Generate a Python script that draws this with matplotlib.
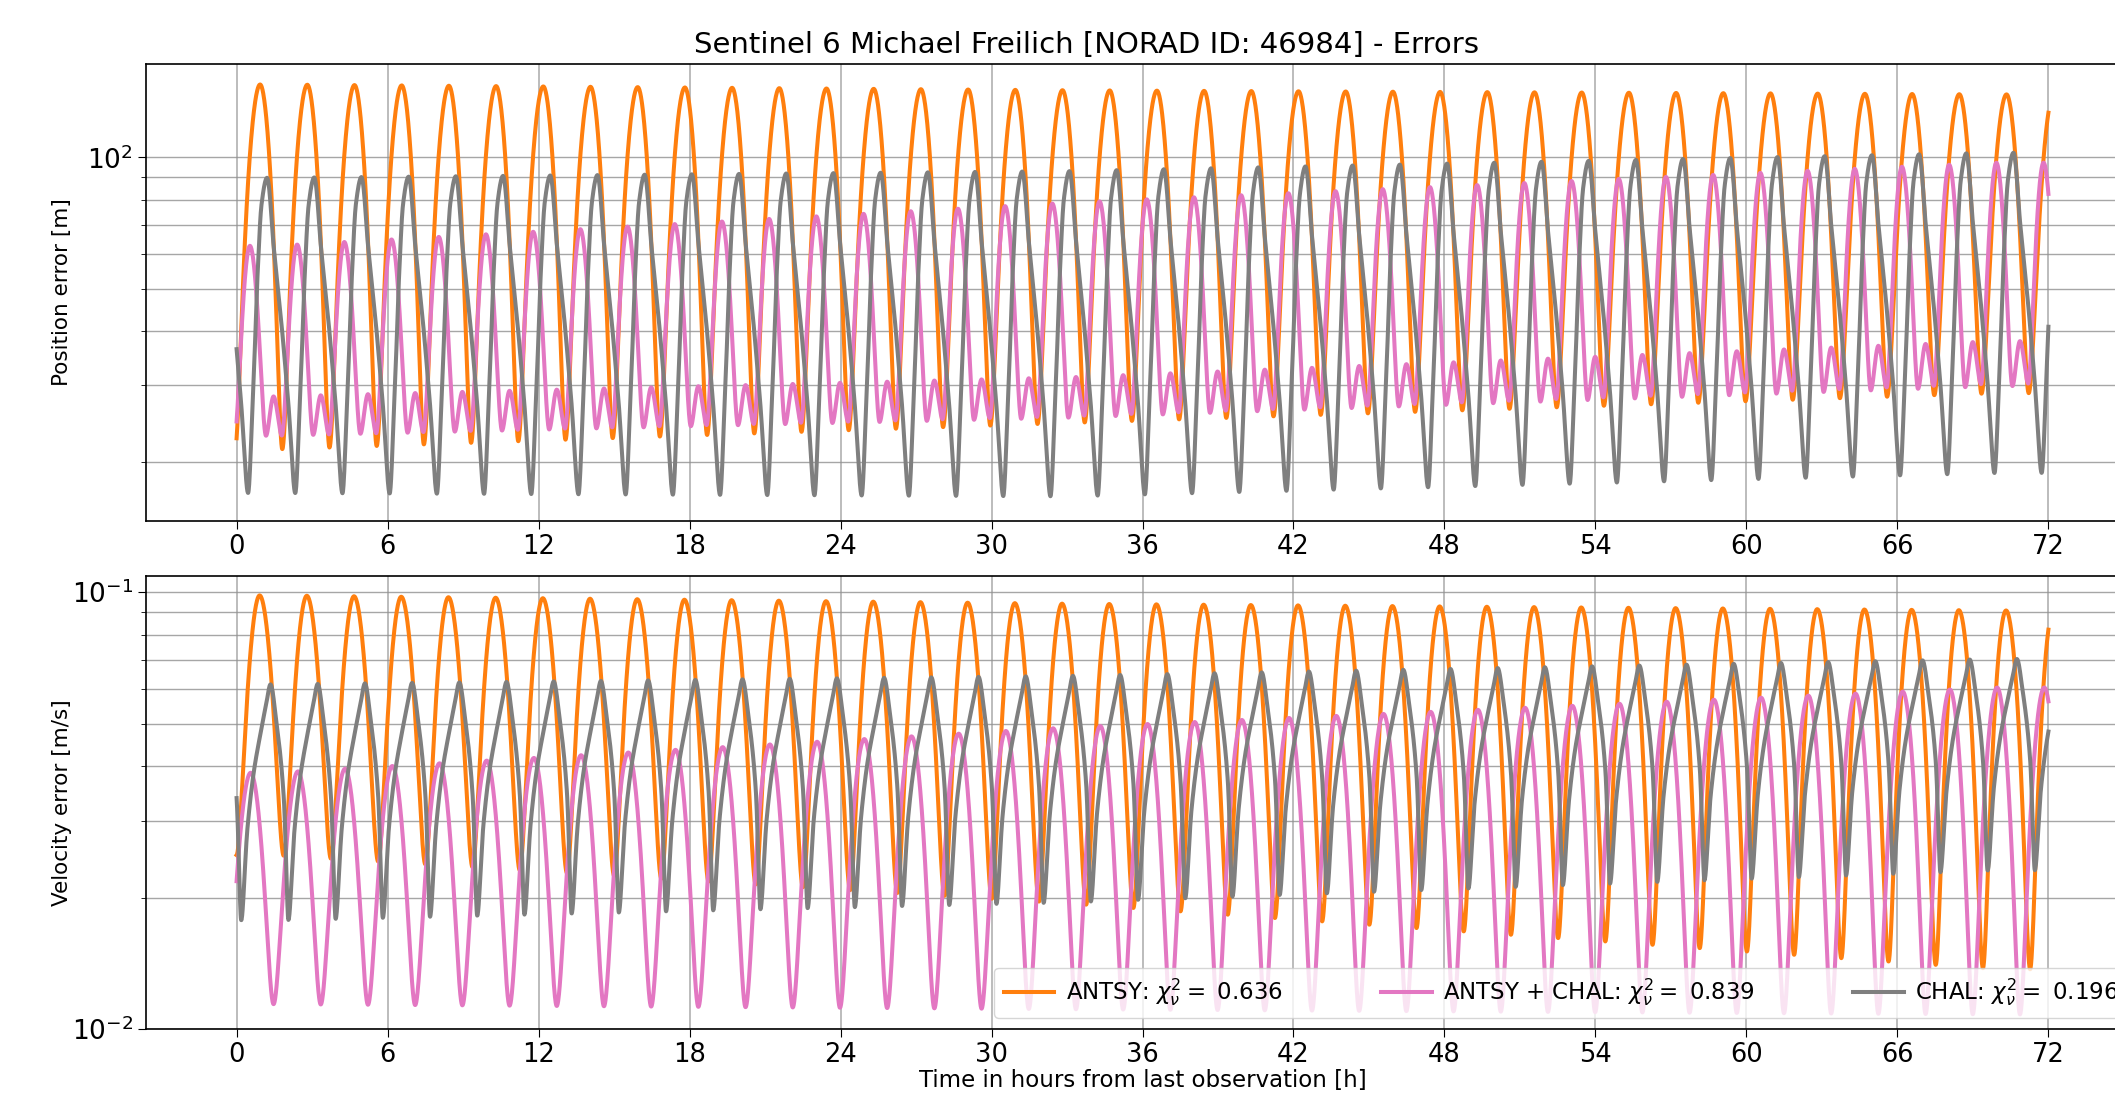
import numpy as np
import matplotlib
matplotlib.use("Agg")
import matplotlib.pyplot as plt

# ---------------- data ----------------
TITLE = "Sentinel 6 Michael Freilich [NORAD ID: 46984] - Errors"
SERIES = ["ANTSY", "ANTSY + CHAL", "CHAL"]
CHI2 = [0.636, 0.839, 0.196]
COLORS = ["#ff7f0e", "#e377c2", "#7f7f7f"]
XTICKS = [0, 6, 12, 18, 24, 30, 36, 42, 48, 54, 60, 66, 72]

ORBIT_PERIOD_H = 1.8757      # spacing of the oscillations
FIRST_TROUGH_H = 1.76        # first ANTSY position trough (phase origin)
ANCHOR_T = [1.5, 33.0, 70.0]  # times where the key values below were read

# Position error [m]: key points of one orbit (phase, start / mid / end values)
pos_antsy_phase = [0.03, 0.56]
pos_antsy_start = [21.4, 147.0]
pos_antsy_mid = [24.6, 142.6]
pos_antsy_end = [28.8, 139.5]

pos_both_phase = [0.344, 0.685, 0.845, 0.02]
pos_both_start = [62.7, 23.0, 28.3, 23.0]
pos_both_mid = [78.7, 25.3, 31.3, 25.5]
pos_both_end = [97.3, 29.9, 37.9, 30.3]

pos_chal_phase = [0.0, 0.15, 0.305, 0.43, 0.51, 0.59, 0.707, 0.85]
pos_chal_start = [43.0, 28.0, 17.0, 32.6, 55.0, 78.0, 89.8, 62.0]
pos_chal_mid = [43.3, 27.8, 16.7, 32.7, 56.1, 80.5, 93.0, 63.5]
pos_chal_end = [48.4, 31.3, 18.9, 36.6, 62.3, 88.9, 102.5, 70.4]

# Velocity error [m/s]
vel_antsy_phase = [0.06, 0.55]
vel_antsy_start = [0.025, 0.0983]
vel_antsy_mid = [0.0194, 0.0941]
vel_antsy_end = [0.0137, 0.0908]

vel_both_phase = [0.36, 0.845]
vel_both_start = [0.0386, 0.0114]
vel_both_mid = [0.049, 0.0111]
vel_both_end = [0.0605, 0.0108]

vel_chal_phase = [0.06, 0.16, 0.294, 0.422, 0.557, 0.69, 0.78, 0.9]
vel_chal_start = [0.034, 0.01774, 0.0290, 0.0385, 0.0468, 0.0555, 0.0615, 0.051]
vel_chal_mid = [0.0364, 0.0195, 0.0313, 0.0410, 0.0494, 0.0582, 0.0643, 0.0537]
vel_chal_end = [0.0414, 0.0231, 0.0359, 0.0462, 0.0550, 0.0640, 0.0703, 0.0596]


# ---------------- helpers ----------------
def pchip_periodic(xk, yk, x):
    xk = np.asarray(xk, float)
    yk = np.asarray(yk, float)
    o = np.argsort(xk)
    xk, yk = xk[o], yk[o]
    xe = np.concatenate([xk - 1, xk, xk + 1])
    ye = np.concatenate([yk, yk, yk])
    h = np.diff(xe)
    dl = np.diff(ye) / h
    d = np.zeros_like(xe)
    for i in range(1, len(xe) - 1):
        if dl[i - 1] * dl[i] <= 0:
            d[i] = 0.0
        else:
            w1 = 2 * h[i] + h[i - 1]
            w2 = h[i] + 2 * h[i - 1]
            d[i] = (w1 + w2) / (w1 / dl[i - 1] + w2 / dl[i])
    xm = np.mod(x, 1.0)
    idx = np.searchsorted(xe, xm, side="right") - 1
    hh = h[idx]
    s = (xm - xe[idx]) / hh
    h00 = 2 * s**3 - 3 * s**2 + 1
    h10 = s**3 - 2 * s**2 + s
    h01 = -2 * s**3 + 3 * s**2
    h11 = s**3 - s**2
    return h00 * ye[idx] + h10 * hh * d[idx] + h01 * ye[idx + 1] + h11 * hh * d[idx + 1]


t = np.linspace(0, 72, 7201)
phase = (t - FIRST_TROUGH_H) / ORBIT_PERIOD_H


def build(ph, start, mid, end):
    curves = [np.log10(np.maximum(pchip_periodic(ph, v, phase), 1e-6))
              for v in (start, mid, end)]
    w = []
    for k in range(3):
        e = np.zeros(3)
        e[k] = 1.0
        w.append(np.interp(t, ANCHOR_T, e))
    return 10 ** sum(wk * ck for wk, ck in zip(w, curves))


pos = [build(pos_antsy_phase, pos_antsy_start, pos_antsy_mid, pos_antsy_end),
       build(pos_both_phase, pos_both_start, pos_both_mid, pos_both_end),
       build(pos_chal_phase, pos_chal_start, pos_chal_mid, pos_chal_end)]
vel = [build(vel_antsy_phase, vel_antsy_start, vel_antsy_mid, vel_antsy_end),
       build(vel_both_phase, vel_both_start, vel_both_mid, vel_both_end),
       build(vel_chal_phase, vel_chal_start, vel_chal_mid, vel_chal_end)]

# ---------------- figure ----------------
W, H = 2115, 1093
fig = plt.figure(figsize=(W / 100, H / 100), dpi=100)


def rect(l, r, top, bot):
    return [l / W, 1 - bot / H, (r - l) / W, (bot - top) / H]


ax1 = fig.add_axes(rect(146, 2139, 64, 521))
ax2 = fig.add_axes(rect(146, 2139, 576, 1029))

for ax, data in ((ax1, pos), (ax2, vel)):
    for name, c, col, y in zip(SERIES, CHI2, COLORS, data):
        ax.plot(t, y, color=col, lw=2.9,
                label=f"{name}: $\\chi_\\nu^2 =$ {c}")
    ax.set_yscale("log")
    ax.set_xlim(-3.6, 75.6)
    ax.set_xticks(XTICKS)
    ax.grid(True, which="major", axis="x", color="#b0b0b0", lw=1.2)
    ax.grid(True, which="both", axis="y", color="#909090", lw=1.0, alpha=0.8)
    ax.tick_params(axis="x", which="major", labelsize=18.5, length=6)
    ax.tick_params(axis="y", which="major", labelsize=19, length=6)
    ax.tick_params(axis="y", which="minor", length=3.5)
    for sp in ax.spines.values():
        sp.set_linewidth(1.2)

ax1.set_ylim(14.66, 163.8)
ax2.set_ylim(0.01, 0.1089)

ax1.set_ylabel("Position error [m]", fontsize=15.5)
ax2.set_ylabel("Velocity error [m/s]", fontsize=15.5)
ax1.yaxis.set_label_coords(-0.037, 0.5)
ax2.yaxis.set_label_coords(-0.037, 0.5)
ax2.set_xlabel("Time in hours from last observation [h]", fontsize=16.5)
ax2.xaxis.set_label_coords(0.5, -0.088)

ax2.legend(loc="lower right", ncol=3, fontsize=16.5, handlelength=2.2,
           handletextpad=0.5, columnspacing=4.3, framealpha=0.8)

fig.suptitle(TITLE, x=1086 / W, y=0.972, fontsize=21)

fig.savefig("out.png", dpi=100)
